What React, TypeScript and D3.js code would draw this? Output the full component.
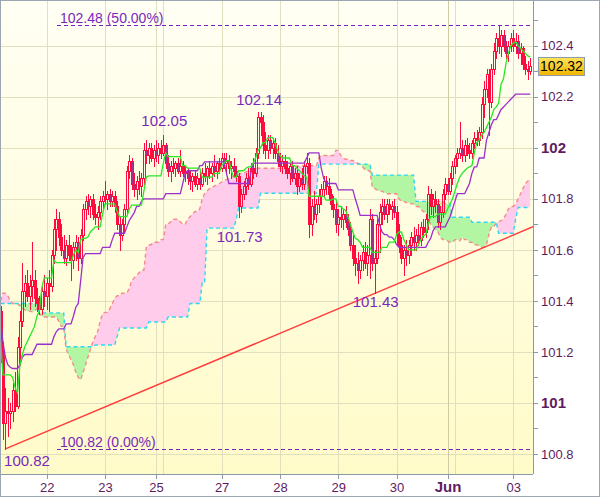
import React from 'react';
import * as d3 from 'd3';

// hourly bars, USD/JPY, 21 May -> 3 Jun
const opens = [
  101.36, 101.20, 100.92, 100.97, 100.96, 100.97, 101.05, 100.99, 101.22, 101.32,
  101.44, 101.47, 101.42, 101.46, 101.48, 101.41, 101.39, 101.37, 101.44, 101.42,
  101.47, 101.46, 101.58, 101.68, 101.72, 101.65, 101.60, 101.57, 101.62, 101.58,
  101.56, 101.61, 101.63, 101.57, 101.66, 101.76, 101.79, 101.77, 101.80, 101.74,
  101.73, 101.75, 101.79, 101.81, 101.80, 101.82, 101.79, 101.81, 101.77, 101.70,
  101.66, 101.70, 101.76, 101.91, 101.95, 101.86, 101.84, 101.87, 101.85, 101.88,
  101.99, 101.97, 102.00, 101.96, 101.99, 101.97, 102.00, 101.98, 102.01, 101.94,
  101.91, 101.93, 101.92, 101.94, 101.91, 101.93, 101.90, 101.91, 101.88, 101.87,
  101.89, 101.86, 101.88, 101.86, 101.90, 101.89, 101.92, 101.90, 101.93, 101.91,
  101.94, 101.92, 101.96, 101.94, 101.95, 101.92, 101.93, 101.91, 101.89, 101.77,
  101.82, 101.85, 101.88, 101.86, 101.92, 101.90, 101.98, 102.12, 102.10, 102.01,
  101.99, 102.03, 102.00, 102.02, 101.98, 101.95, 101.93, 101.95, 101.92, 101.90,
  101.93, 101.88, 101.90, 101.85, 101.88, 101.86, 101.93, 101.94, 101.70, 101.77,
  101.74, 101.78, 101.81, 101.84, 101.87, 101.85, 101.82, 101.78, 101.76, 101.70,
  101.73, 101.72, 101.74, 101.71, 101.68, 101.62, 101.57, 101.55, 101.52, 101.56,
  101.59, 101.55, 101.58, 101.72, 101.55, 101.57, 101.70, 101.75, 101.77, 101.74,
  101.78, 101.76, 101.77, 101.75, 101.66, 101.62, 101.57, 101.60, 101.58, 101.62,
  101.65, 101.63, 101.66, 101.64, 101.69, 101.67, 101.72, 101.82, 101.77, 101.80,
  101.78, 101.71, 101.75, 101.82, 101.86, 101.83, 101.88, 101.93, 101.96, 101.98,
  102.00, 101.97, 102.01, 101.99, 101.98, 102.02, 102.04, 102.03, 102.06, 102.17,
  102.23, 102.29, 102.18, 102.31, 102.38, 102.43, 102.40, 102.44, 102.40, 102.37,
  102.40, 102.43, 102.40, 102.42, 102.37, 102.39, 102.33, 102.31, 102.30,
];
const highs = [
  101.38, 101.24, 101.06, 101.02, 101.00, 101.08, 101.12, 101.26, 101.36, 101.55,
  101.50, 101.52, 101.50, 101.63, 101.52, 101.45, 101.42, 101.46, 101.50, 101.49,
  101.52, 101.60, 101.72, 101.76, 101.75, 101.70, 101.66, 101.64, 101.66, 101.62,
  101.63, 101.66, 101.65, 101.68, 101.78, 101.81, 101.82, 101.81, 101.82, 101.78,
  101.77, 101.81, 101.83, 101.87, 101.83, 101.84, 101.83, 101.83, 101.79, 101.73,
  101.72, 101.78, 101.93, 101.97, 101.96, 101.90, 101.89, 101.91, 101.90, 102.02,
  102.03, 102.02, 102.02, 102.01, 102.03, 102.02, 102.03, 102.05, 102.02, 101.97,
  101.95, 101.96, 101.95, 101.96, 101.99, 101.95, 101.93, 101.92, 101.91, 101.90,
  101.91, 101.90, 101.91, 101.92, 101.94, 101.93, 101.95, 101.94, 101.97, 101.95,
  101.96, 101.98, 101.98, 101.98, 101.97, 101.95, 101.96, 101.93, 101.90, 101.84,
  101.87, 101.90, 101.92, 101.94, 101.96, 102.00, 102.14, 102.14, 102.13, 102.06,
  102.05, 102.05, 102.04, 102.04, 102.01, 101.98, 101.97, 101.97, 101.95, 101.94,
  101.95, 101.92, 101.93, 101.90, 101.92, 101.95, 101.98, 101.96, 101.80, 101.83,
  101.80, 101.84, 101.86, 101.89, 101.89, 101.88, 101.84, 101.81, 101.79, 101.76,
  101.77, 101.76, 101.77, 101.74, 101.71, 101.66, 101.62, 101.59, 101.58, 101.62,
  101.63, 101.62, 101.76, 101.74, 101.60, 101.72, 101.78, 101.80, 101.80, 101.80,
  101.80, 101.79, 101.80, 101.77, 101.70, 101.65, 101.62, 101.64, 101.64, 101.67,
  101.69, 101.68, 101.70, 101.71, 101.72, 101.74, 101.85, 101.84, 101.82, 101.83,
  101.80, 101.77, 101.84, 101.88, 101.88, 101.90, 101.95, 101.97, 102.00, 102.10,
  102.03, 102.03, 102.04, 102.02, 102.03, 102.06, 102.07, 102.08, 102.20, 102.26,
  102.31, 102.31, 102.33, 102.41, 102.45, 102.48, 102.46, 102.46, 102.42, 102.42,
  102.45, 102.46, 102.45, 102.44, 102.41, 102.40, 102.36, 102.34, 102.35,
];
const lows = [
  101.16, 100.86, 100.82, 100.87, 100.90, 100.93, 100.97, 100.98, 101.15, 101.30,
  101.38, 101.40, 101.37, 101.40, 101.38, 101.36, 101.35, 101.35, 101.38, 101.37,
  101.36, 101.44, 101.55, 101.60, 101.62, 101.58, 101.55, 101.54, 101.56, 101.48,
  101.53, 101.56, 101.52, 101.55, 101.64, 101.72, 101.74, 101.73, 101.72, 101.70,
  101.68, 101.72, 101.76, 101.78, 101.76, 101.77, 101.77, 101.75, 101.68, 101.60,
  101.64, 101.67, 101.74, 101.88, 101.84, 101.81, 101.80, 101.82, 101.81, 101.86,
  101.94, 101.94, 101.95, 101.93, 101.95, 101.94, 101.96, 101.97, 101.92, 101.89,
  101.87, 101.90, 101.89, 101.90, 101.89, 101.89, 101.87, 101.86, 101.84, 101.83,
  101.85, 101.84, 101.84, 101.85, 101.87, 101.86, 101.88, 101.87, 101.89, 101.88,
  101.90, 101.91, 101.92, 101.90, 101.90, 101.88, 101.89, 101.87, 101.73, 101.75,
  101.80, 101.82, 101.84, 101.85, 101.88, 101.89, 101.96, 102.05, 101.98, 101.96,
  101.96, 101.98, 101.96, 101.96, 101.93, 101.91, 101.90, 101.90, 101.88, 101.86,
  101.87, 101.86, 101.82, 101.83, 101.84, 101.84, 101.90, 101.65, 101.66, 101.72,
  101.71, 101.75, 101.78, 101.81, 101.82, 101.80, 101.76, 101.73, 101.67, 101.66,
  101.69, 101.68, 101.69, 101.66, 101.60, 101.54, 101.50, 101.47, 101.49, 101.52,
  101.53, 101.50, 101.49, 101.52, 101.43, 101.55, 101.59, 101.70, 101.72, 101.71,
  101.74, 101.72, 101.73, 101.62, 101.59, 101.55, 101.50, 101.54, 101.55, 101.58,
  101.60, 101.60, 101.62, 101.62, 101.65, 101.65, 101.68, 101.74, 101.73, 101.75,
  101.69, 101.68, 101.73, 101.80, 101.82, 101.82, 101.86, 101.90, 101.93, 101.96,
  101.95, 101.95, 101.97, 101.96, 101.96, 102.00, 102.01, 102.01, 102.04, 102.12,
  102.20, 102.05, 102.16, 102.29, 102.35, 102.37, 102.36, 102.38, 102.35, 102.34,
  102.38, 102.38, 102.37, 102.35, 102.33, 102.31, 102.29, 102.27, 102.29,
];
const closes = [
  101.20, 100.92, 100.97, 100.96, 100.97, 101.05, 100.99, 101.22, 101.32, 101.44,
  101.47, 101.42, 101.46, 101.48, 101.41, 101.39, 101.37, 101.44, 101.42, 101.47,
  101.46, 101.58, 101.68, 101.72, 101.65, 101.60, 101.57, 101.62, 101.58, 101.56,
  101.61, 101.63, 101.57, 101.66, 101.76, 101.79, 101.77, 101.80, 101.74, 101.73,
  101.75, 101.79, 101.81, 101.80, 101.82, 101.79, 101.81, 101.77, 101.70, 101.66,
  101.70, 101.76, 101.91, 101.95, 101.86, 101.84, 101.87, 101.85, 101.88, 101.99,
  101.97, 102.00, 101.96, 101.99, 101.97, 102.00, 101.98, 102.01, 101.94, 101.91,
  101.93, 101.92, 101.94, 101.91, 101.93, 101.90, 101.91, 101.88, 101.87, 101.89,
  101.86, 101.88, 101.86, 101.90, 101.89, 101.92, 101.90, 101.93, 101.91, 101.94,
  101.92, 101.96, 101.94, 101.95, 101.92, 101.93, 101.91, 101.89, 101.77, 101.82,
  101.85, 101.88, 101.86, 101.92, 101.90, 101.98, 102.12, 102.10, 102.01, 101.99,
  102.03, 102.00, 102.02, 101.98, 101.95, 101.93, 101.95, 101.92, 101.90, 101.93,
  101.88, 101.90, 101.85, 101.88, 101.86, 101.93, 101.94, 101.70, 101.77, 101.74,
  101.78, 101.81, 101.84, 101.87, 101.85, 101.82, 101.78, 101.76, 101.70, 101.73,
  101.72, 101.74, 101.71, 101.68, 101.62, 101.57, 101.55, 101.52, 101.56, 101.59,
  101.55, 101.58, 101.72, 101.55, 101.57, 101.70, 101.75, 101.77, 101.74, 101.78,
  101.76, 101.77, 101.75, 101.66, 101.62, 101.57, 101.60, 101.58, 101.62, 101.65,
  101.63, 101.66, 101.64, 101.69, 101.67, 101.72, 101.82, 101.77, 101.80, 101.78,
  101.71, 101.75, 101.82, 101.86, 101.83, 101.88, 101.93, 101.96, 101.98, 102.00,
  101.97, 102.01, 101.99, 101.98, 102.02, 102.04, 102.03, 102.06, 102.17, 102.23,
  102.29, 102.18, 102.31, 102.38, 102.43, 102.40, 102.44, 102.40, 102.37, 102.40,
  102.43, 102.40, 102.42, 102.37, 102.39, 102.33, 102.31, 102.30, 102.32,
];

// ichimoku lines, one value per bar
const tenkan = [
  101.25, 101.11, 101.11, 101.11, 101.11, 101.10, 101.06, 101.04, 101.15, 101.19,
  101.22, 101.24, 101.26, 101.28, 101.30, 101.34, 101.36, 101.45, 101.49, 101.49,
  101.49, 101.49, 101.56, 101.55, 101.55, 101.55, 101.55, 101.55, 101.55, 101.55,
  101.58, 101.60, 101.59, 101.64, 101.645, 101.645, 101.65, 101.67, 101.68, 101.69,
  101.69, 101.69, 101.74, 101.78, 101.78, 101.78, 101.78, 101.78, 101.75, 101.73,
  101.73, 101.73, 101.73, 101.76, 101.775, 101.775, 101.775, 101.775, 101.775, 101.83,
  101.885, 101.89, 101.89, 101.89, 101.89, 101.89, 101.89, 101.94, 101.98, 101.965,
  101.965, 101.965, 101.965, 101.965, 101.965, 101.93, 101.93, 101.92, 101.92, 101.92,
  101.92, 101.92, 101.92, 101.885, 101.885, 101.885, 101.885, 101.885, 101.90, 101.90,
  101.90, 101.93, 101.94, 101.95, 101.95, 101.91, 101.885, 101.885, 101.91, 101.91,
  101.91, 101.92, 101.925, 101.925, 101.94, 101.96, 101.99, 102.00, 102.02, 102.02,
  102.04, 102.04, 102.04, 102.02, 101.99, 101.97, 101.96, 101.96, 101.96, 101.96,
  101.93, 101.93, 101.92, 101.91, 101.90, 101.89, 101.885, 101.81, 101.81, 101.81,
  101.81, 101.81, 101.81, 101.81, 101.795, 101.795, 101.795, 101.80, 101.80, 101.77,
  101.77, 101.76, 101.755, 101.73, 101.70, 101.67, 101.645, 101.64, 101.63, 101.61,
  101.61, 101.61, 101.61, 101.59, 101.59, 101.59, 101.59, 101.61, 101.61, 101.61,
  101.63, 101.63, 101.63, 101.66, 101.67, 101.67, 101.64, 101.62, 101.60, 101.60,
  101.60, 101.60, 101.62, 101.64, 101.655, 101.66, 101.70, 101.73, 101.73, 101.73,
  101.74, 101.74, 101.74, 101.74, 101.76, 101.78, 101.80, 101.83, 101.86, 101.885,
  101.90, 101.91, 101.92, 101.925, 101.93, 101.98, 102.02, 102.03, 102.05, 102.06,
  102.08, 102.10, 102.12, 102.15, 102.16, 102.175, 102.25, 102.27, 102.33, 102.37,
  102.40, 102.41, 102.415, 102.40, 102.39, 102.38, 102.37, 102.36, 102.355,
];
const kijun = [
  101.33, 101.24, 101.18, 101.15, 101.14, 101.135, 101.135, 101.135, 101.15, 101.18,
  101.19, 101.19, 101.19, 101.19, 101.21, 101.23, 101.23, 101.23, 101.23, 101.23,
  101.23, 101.23, 101.26, 101.28, 101.29, 101.29, 101.29, 101.31, 101.31, 101.31,
  101.34, 101.375, 101.39, 101.48, 101.57, 101.585, 101.585, 101.585, 101.585, 101.585,
  101.585, 101.585, 101.61, 101.61, 101.61, 101.61, 101.64, 101.665, 101.665, 101.665,
  101.665, 101.665, 101.69, 101.715, 101.73, 101.745, 101.77, 101.77, 101.79, 101.80,
  101.80, 101.80, 101.80, 101.80, 101.80, 101.80, 101.80, 101.80, 101.82, 101.82,
  101.82, 101.82, 101.82, 101.82, 101.82, 101.86, 101.90, 101.91, 101.91, 101.91,
  101.91, 101.91, 101.93, 101.93, 101.945, 101.945, 101.945, 101.945, 101.945, 101.945,
  101.945, 101.945, 101.945, 101.90, 101.86, 101.86, 101.86, 101.86, 101.86, 101.86,
  101.86, 101.86, 101.86, 101.90, 101.94, 101.94, 101.94, 101.94, 101.94, 101.94,
  101.94, 101.94, 101.94, 101.94, 101.94, 101.94, 101.94, 101.94, 101.94, 101.94,
  101.94, 101.94, 101.94, 101.94, 101.94, 101.94, 101.96, 101.98, 101.98, 101.98,
  101.98, 101.98, 101.92, 101.88, 101.86, 101.86, 101.86, 101.86, 101.86, 101.835,
  101.835, 101.835, 101.835, 101.835, 101.835, 101.835, 101.80, 101.77, 101.735, 101.735,
  101.735, 101.735, 101.735, 101.735, 101.735, 101.735, 101.70, 101.67, 101.66, 101.66,
  101.65, 101.65, 101.64, 101.62, 101.61, 101.61, 101.61, 101.61, 101.61, 101.61,
  101.61, 101.61, 101.61, 101.61, 101.61, 101.61, 101.63, 101.645, 101.675, 101.69,
  101.69, 101.69, 101.69, 101.69, 101.71, 101.73, 101.76, 101.79, 101.82, 101.82,
  101.82, 101.82, 101.84, 101.86, 101.90, 101.925, 101.925, 101.96, 101.96, 101.96,
  102.03, 102.06, 102.09, 102.11, 102.11, 102.13, 102.15, 102.16, 102.17, 102.18,
  102.19, 102.20, 102.21, 102.21, 102.21, 102.21, 102.21, 102.21, 102.21,
];
const spanA = [
  101.40, 101.43, 101.43, 101.42, 101.40, 101.39, 101.39, 101.39, 101.38, 101.37,
  101.365, 101.36, 101.36, 101.357, 101.36, 101.37, 101.35, 101.34, 101.337, 101.337,
  101.337, 101.337, 101.337, 101.337, 101.32, 101.30, 101.30, 101.21, 101.19, 101.17,
  101.15, 101.12, 101.10, 101.09, 101.12, 101.15, 101.18, 101.21, 101.24, 101.26,
  101.28, 101.32, 101.35, 101.355, 101.355, 101.37, 101.39, 101.41, 101.42, 101.42,
  101.43, 101.43, 101.43, 101.45, 101.48, 101.49, 101.50, 101.51, 101.52, 101.52,
  101.61, 101.62, 101.62, 101.63, 101.63, 101.63, 101.64, 101.64, 101.70, 101.70,
  101.71, 101.72, 101.72, 101.72, 101.71, 101.70, 101.70, 101.72, 101.73, 101.74,
  101.75, 101.75, 101.76, 101.80, 101.82, 101.83, 101.84, 101.845, 101.85, 101.855,
  101.86, 101.865, 101.87, 101.875, 101.88, 101.885, 101.89, 101.89, 101.895, 101.90,
  101.90, 101.905, 101.91, 101.91, 101.91, 101.92, 101.92, 101.92, 101.92, 101.92,
  101.92, 101.92, 101.92, 101.92, 101.92, 101.92, 101.92, 101.92, 101.92, 101.915,
  101.91, 101.92, 101.93, 101.925, 101.93, 101.93, 101.93, 101.93, 101.93, 101.93,
  101.93, 101.96, 101.97, 101.97, 101.97, 101.97, 101.97, 101.97, 101.99, 101.99,
  101.97, 101.96, 101.955, 101.955, 101.95, 101.95, 101.945, 101.94, 101.935, 101.925,
  101.915, 101.91, 101.91, 101.845, 101.84, 101.835, 101.83, 101.83, 101.825, 101.82,
  101.82, 101.82, 101.82, 101.82, 101.80, 101.79, 101.79, 101.785, 101.785, 101.78,
  101.78, 101.77, 101.77, 101.76, 101.75, 101.745, 101.72, 101.70, 101.69, 101.68,
  101.67, 101.65, 101.64, 101.64, 101.635, 101.63, 101.63, 101.64, 101.64, 101.635,
  101.65, 101.64, 101.64, 101.63, 101.63, 101.62, 101.62, 101.615, 101.61, 101.61,
  101.62, 101.66, 101.69, 101.69, 101.705, 101.71, 101.715, 101.72, 101.74, 101.76,
  101.77, 101.77, 101.78, 101.80, 101.82, 101.84, 101.86, 101.87, 101.875,
];
const spanB = [
  101.39, 101.39, 101.39, 101.39, 101.39, 101.39, 101.39, 101.39, 101.39, 101.39,
  101.39, 101.39, 101.39, 101.39, 101.39, 101.39, 101.353, 101.353, 101.353, 101.353,
  101.353, 101.353, 101.353, 101.353, 101.353, 101.353, 101.353, 101.22, 101.22, 101.22,
  101.22, 101.22, 101.22, 101.22, 101.22, 101.22, 101.22, 101.22, 101.22, 101.227,
  101.227, 101.227, 101.227, 101.227, 101.227, 101.227, 101.227, 101.227, 101.26, 101.294,
  101.294, 101.294, 101.294, 101.294, 101.294, 101.294, 101.294, 101.294, 101.294, 101.294,
  101.294, 101.317, 101.317, 101.317, 101.317, 101.317, 101.317, 101.317, 101.317, 101.337,
  101.337, 101.337, 101.337, 101.337, 101.337, 101.337, 101.337, 101.337, 101.39, 101.39,
  101.39, 101.39, 101.39, 101.47, 101.47, 101.685, 101.685, 101.685, 101.685, 101.685,
  101.685, 101.685, 101.685, 101.685, 101.685, 101.685, 101.685, 101.72, 101.764, 101.764,
  101.764, 101.764, 101.764, 101.764, 101.764, 101.764, 101.764, 101.822, 101.822, 101.822,
  101.822, 101.822, 101.822, 101.822, 101.822, 101.822, 101.822, 101.822, 101.822, 101.822,
  101.822, 101.822, 101.822, 101.822, 101.822, 101.822, 101.822, 101.822, 101.822, 101.822,
  101.822, 101.936, 101.936, 101.936, 101.936, 101.936, 101.936, 101.936, 101.936, 101.936,
  101.936, 101.936, 101.936, 101.936, 101.936, 101.936, 101.936, 101.936, 101.936, 101.936,
  101.936, 101.936, 101.936, 101.893, 101.893, 101.893, 101.893, 101.893, 101.893, 101.893,
  101.893, 101.893, 101.893, 101.893, 101.893, 101.893, 101.893, 101.893, 101.893, 101.893,
  101.893, 101.79, 101.79, 101.79, 101.79, 101.79, 101.79, 101.79, 101.79, 101.79,
  101.79, 101.79, 101.79, 101.78, 101.78, 101.78, 101.728, 101.728, 101.728, 101.728,
  101.728, 101.728, 101.728, 101.728, 101.708, 101.708, 101.708, 101.708, 101.708, 101.708,
  101.708, 101.708, 101.708, 101.708, 101.708, 101.665, 101.665, 101.665, 101.665, 101.665,
  101.665, 101.665, 101.72, 101.766, 101.766, 101.766, 101.766, 101.766, 101.766,
];

// x axis: labels and the bar each day starts at
const dayLabels = ['22', '23', '25', '27', '28', '29', '30', 'Jun', '03'];
const dayLabelBars = [19, 43, 64, 91, 115, 139, 163, 184, 211];
const dayGridBars = [19, 43, 64, 67, 91, 115, 139, 163, 184, 187, 211];

// fibonacci levels
const fibValues = [102.48, 100.82];
const fibLabels = ['102.48 (50.00%)', '100.82 (0.00%)'];

// swing highs / lows
const pivotBars = [2, 67, 98, 106, 154];
const pivotValues = [100.82, 102.05, 101.73, 102.14, 101.43];

// support trendline anchors
const trendBars = [2, 218];
const trendValues = [100.82, 101.686];

const lastPrice = 102.32;

const W = 600;
const H = 497;
const PL = 1;
const PR = 533;
const PT = 1;
const PB = 474;
const FONT = "'Liberation Sans', Arial, Helvetica, sans-serif";
const RED = '#ff0a3c';
const BEAR = '#a0338f';
const AXIS_TXT = '#5e1c60';
const NOTE_TXT = '#7a28bc';

export default function App() {
  const n = closes.length;
  const idx = d3.range(n);
  const x = d3.scaleLinear().domain([0, n - 1]).range([0.5, 530.24]);
  const y = d3.scaleLinear().domain([100.8, 102.4]).range([454, 45.7]);

  const cloud = d3.area<number>().x(i => x(i)).y0(i => y(spanB[i])).y1(i => y(spanA[i]));
  const overB = d3.area<number>().x(i => x(i)).y0(PT).y1(i => y(spanB[i]));
  const underB = d3.area<number>().x(i => x(i)).y0(i => y(spanB[i])).y1(PB);
  const linePath = (s: number[]) => d3.line<number>().x(i => x(i)).y(i => y(s[i]))(idx) || '';

  const yTicks = d3.range(1008, 1026).map(v => v / 10);
  const isMajor = (v: number) => Math.round(v * 10) % 2 === 0;
  const fmt = (v: number) => (Math.abs(v - Math.round(v)) < 1e-9 ? d3.format('d')(v) : d3.format('.1f')(v));

  // trendline, extended to the right edge of the plot
  const tx1 = x(trendBars[0]);
  const ty1 = y(trendValues[0]);
  const slope = (y(trendValues[1]) - ty1) / (x(trendBars[1]) - tx1);
  const ty2 = ty1 + slope * (PR - tx1);

  // label offsets (layout only)
  const pivotDy = [17, -9, 25, -7, 14];

  return (
    <svg width={W} height={H} style={{ position: 'absolute', left: 0, top: 0, display: 'block' }} fontFamily={FONT}>
      <defs>
        <linearGradient id="bg" x1="0" y1="0" x2="0" y2="1">
          <stop offset="0" stopColor="#fffff4" />
          <stop offset="1" stopColor="#fffbc9" />
        </linearGradient>
        <linearGradient id="gold" x1="0" y1="0" x2="0" y2="1">
          <stop offset="0" stopColor="#ffe45a" />
          <stop offset="1" stopColor="#f2b400" />
        </linearGradient>
        <clipPath id="plot">
          <rect x={PL} y={PT} width={PR - PL} height={PB - PT} />
        </clipPath>
        <clipPath id="overB">
          <path d={overB(idx) || ''} />
        </clipPath>
        <clipPath id="underB">
          <path d={underB(idx) || ''} />
        </clipPath>
      </defs>

      <rect x={0} y={0} width={W} height={H} fill="#ffffff" />
      <rect x={PL} y={PT} width={PR - PL} height={PB - PT} fill="url(#bg)" />

      {/* grid */}
      <g shapeRendering="crispEdges">
        {yTicks.filter(isMajor).map(v => (
          <line key={'gy' + v} x1={PL} x2={PR} y1={Math.round(y(v)) + 0.5} y2={Math.round(y(v)) + 0.5} stroke="#e2dfbf" />
        ))}
        {dayGridBars.map(b => (
          <line key={'gx' + b} x1={Math.round(x(b)) + 0.5} x2={Math.round(x(b)) + 0.5} y1={PT} y2={PB}
            stroke={b === 184 ? '#cfcca4' : '#e2dfbf'} />
        ))}
      </g>

      <g clipPath="url(#plot)">
        {/* kumo */}
        <path d={cloud(idx) || ''} fill="#ffccec" clipPath="url(#overB)" />
        <path d={cloud(idx) || ''} fill="#b2f6a4" clipPath="url(#underB)" />
        <path d={linePath(spanA)} fill="none" stroke="#f58c8c" strokeWidth={1.4} strokeDasharray="4,3" />
        <path d={linePath(spanB)} fill="none" stroke="#2fd8f0" strokeWidth={1.4} strokeDasharray="4,3" />

        {/* trendline */}
        <line x1={tx1} y1={ty1} x2={PR} y2={ty2} stroke="#ff3b3b" strokeWidth={1.4} />

        {/* candles */}
        <g stroke={RED} strokeWidth={1} shapeRendering="crispEdges">
          {idx.map(i => {
            const o = opens[i];
            const c = closes[i];
            const cx = Math.round(x(i));
            const yTop = Math.round(y(Math.max(o, c)));
            const yBot = Math.round(y(Math.min(o, c)));
            const yHi = Math.round(y(highs[i]));
            const yLo = Math.round(y(lows[i]));
            return (
              <g key={'c' + i}>
                <line x1={cx + 0.5} x2={cx + 0.5} y1={yHi} y2={yTop} />
                <line x1={cx + 0.5} x2={cx + 0.5} y1={yBot + 1} y2={yLo + 1} />
                <rect x={cx - 0.5} y={yTop + 0.5} width={2} height={Math.max(yBot - yTop, 1)}
                  fill={c < o ? BEAR : 'none'} />
              </g>
            );
          })}
        </g>

        <path d={linePath(kijun)} fill="none" stroke="#9b30cc" strokeWidth={1.3} />
        <path d={linePath(tenkan)} fill="none" stroke="#27e827" strokeWidth={1.3} />

        {/* fibonacci levels */}
        {fibValues.map((v, k) => (
          <g key={'f' + k}>
            <line x1={57} x2={PR} y1={Math.round(y(v)) + 0.5} y2={Math.round(y(v)) + 0.5}
              stroke="#7a22c0" strokeDasharray="4,3" shapeRendering="crispEdges" />
            <text x={60} y={y(v) - 2} fontSize={14} fill={NOTE_TXT}>{fibLabels[k]}</text>
          </g>
        ))}

        {/* swing labels */}
        {pivotBars.map((b, k) => (
          <text key={'p' + k} x={Math.max(x(b) + 1, PL + 26)} y={y(pivotValues[k]) + pivotDy[k]}
            fontSize={15} fill={NOTE_TXT} textAnchor="middle">
            {d3.format('.2f')(pivotValues[k])}
          </text>
        ))}
      </g>

      {/* axes */}
      <g stroke="#8c9aa7" shapeRendering="crispEdges">
        <line x1={PR + 0.5} x2={PR + 0.5} y1={PT} y2={PB} strokeWidth={1.5} />
        <line x1={PL} x2={PR} y1={PB + 0.5} y2={PB + 0.5} strokeWidth={1.5} />
        {yTicks.map(v => (
          <line key={'ty' + v} x1={PR} x2={PR + 5} y1={Math.round(y(v)) + 0.5} y2={Math.round(y(v)) + 0.5} />
        ))}
        {dayLabelBars.map(b => (
          <line key={'tx' + b} x1={Math.round(x(b)) + 0.5} x2={Math.round(x(b)) + 0.5} y1={PB} y2={PB + 5} />
        ))}
      </g>

      {yTicks.filter(isMajor).map(v => {
        const whole = Math.abs(v - Math.round(v)) < 1e-9;
        return (
          <text key={'ly' + v} x={541} y={y(v)} dy="0.36em" fontSize={whole ? 15 : 13}
            fontWeight={whole ? 'bold' : 'normal'} fill={AXIS_TXT}>
            {fmt(v)}
          </text>
        );
      })}

      {dayLabels.map((d, k) => {
        const month = d === 'Jun';
        return (
          <text key={'lx' + d} x={x(dayLabelBars[k]) + 0.5} y={492} textAnchor="middle"
            fontSize={month ? 15 : 13} fontWeight={month ? 'bold' : 'normal'} fill={AXIS_TXT}>
            {d}
          </text>
        );
      })}

      {/* last price */}
      <rect x={538.5} y={Math.round(y(lastPrice)) - 8.5} width={46} height={18} fill="url(#gold)"
        stroke="#8e9caa" shapeRendering="crispEdges" />
      <text x={561.5} y={y(lastPrice)} dy="0.36em" textAnchor="middle" fontSize={14} fill="#000">
        {d3.format('.2f')(lastPrice)}
      </text>

      {/* outer frame */}
      <rect x={0.5} y={0.5} width={W - 1} height={H - 1} fill="none" stroke="#9aa6b2" shapeRendering="crispEdges" />
    </svg>
  );
}
